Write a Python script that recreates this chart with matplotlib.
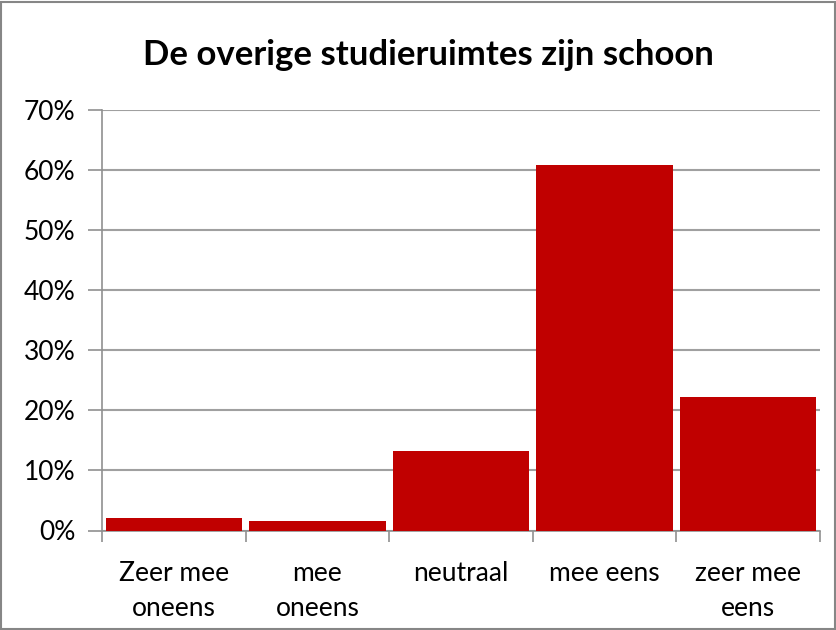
import matplotlib
matplotlib.use("Agg")
import matplotlib.pyplot as plt
from matplotlib.ticker import FuncFormatter, FixedLocator, NullFormatter
from matplotlib.patches import Rectangle

categories = ["Zeer mee\noneens", "mee\noneens", "neutraal", "mee eens", "zeer mee\neens"]
values = [2.0, 1.6, 13.2, 60.9, 22.3]
title = "De overige studieruimtes zijn schoon"

plt.rcParams['font.family'] = ['Lato', 'DejaVu Sans']

fig = plt.figure(figsize=(8.37, 6.30), dpi=100)
ax = fig.add_axes([102/837, 1 - 530.5/630, (820-102)/837, (530.5-110)/630])

x = list(range(len(categories)))
ax.bar(x, values, width=0.95, color="#C00000", zorder=3)
ax.set_xlim(-0.5, len(categories) - 0.5)
ax.set_ylim(0, 70)
ax.set_yticks(range(0, 71, 10))
ax.yaxis.set_major_formatter(FuncFormatter(lambda v, p: f"{int(v)}%"))
ax.yaxis.grid(True, color="#A0A0A0", linewidth=1.5, zorder=0)
ax.tick_params(axis='y', labelsize=19, length=10, width=1.2, color="#909090", pad=9)

ax.set_xticks(x)
ax.set_xticklabels(categories, fontsize=19, linespacing=1.5)
ax.tick_params(axis='x', which='major', length=0, pad=22)
ax.xaxis.set_minor_locator(FixedLocator([i - 0.5 for i in range(len(categories) + 1)]))
ax.xaxis.set_minor_formatter(NullFormatter())
ax.tick_params(axis='x', which='minor', length=8, width=1.2, color="#909090")

for s in ["top", "right"]:
    ax.spines[s].set_visible(False)
for s in ["left", "bottom"]:
    ax.spines[s].set_color("#909090")
    ax.spines[s].set_linewidth(1.2)

fig.text(0.5 + 10/837, 1 - 55/630, title, ha="center", va="center", fontsize=25, fontweight="bold")

fig.patches.append(Rectangle((1/837, 1/630), 834/837, 627/630, transform=fig.transFigure,
                             fill=False, edgecolor="#868686", linewidth=1.5))

fig.savefig("out.png", dpi=100)
